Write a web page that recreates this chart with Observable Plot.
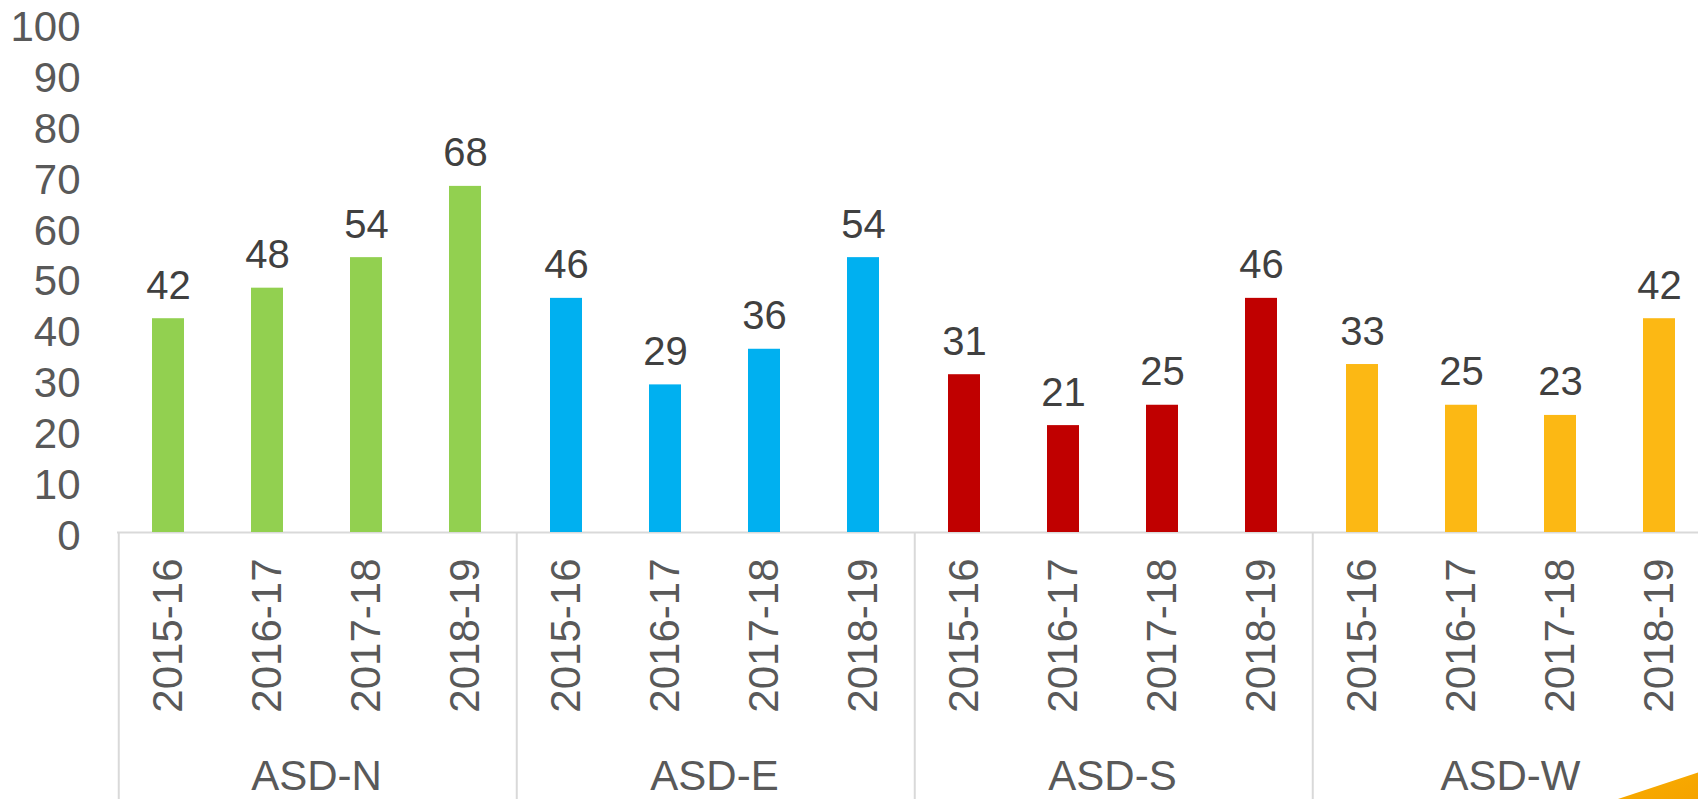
<!DOCTYPE html>
<html>
<head>
<meta charset="utf-8">
<script src="https://cdn.jsdelivr.net/npm/d3@7"></script>
<script src="https://cdn.jsdelivr.net/npm/@observablehq/plot@0.6"></script>
<style>
  html, body { margin: 0; padding: 0; background: #fff; overflow: hidden; }
  #wrap { position: relative; width: 1698px; height: 799px; overflow: hidden; }
  #swoosh { position: absolute; left: 1560px; top: 740px; width: 138px; height: 59px;
    background: linear-gradient(160deg, #ffffff 0%, #fff3d6 45%, #f7a900 70%, #f5a300 100%);
    clip-path: polygon(42% 100%, 100% 55%, 100% 100%); }
</style>
</head>
<body>
<div id="wrap"><div id="chart"></div><div id="swoosh"></div></div>
<script>
const groups = ["ASD-N", "ASD-E", "ASD-S", "ASD-W"];
const years = ["2015-16", "2016-17", "2017-18", "2018-19"];
const valuesN = [42, 48, 54, 68];
const valuesE = [46, 29, 36, 54];
const valuesS = [31, 21, 25, 46];
const valuesW = [33, 25, 23, 42];
const colors = ["#92D050", "#00B0F0", "#C00000", "#FCB814"];
const yTicks = [0, 10, 20, 30, 40, 50, 60, 70, 80, 90, 100];

const seriesValues = [valuesN, valuesE, valuesS, valuesW];
const data = groups.flatMap((g, gi) => years.map((yr, yi) => ({group: g, year: yr, value: seriesValues[gi][yi]})));

const W = 1709, H = 799, ML = 117, Y0 = 532, Y100 = 23;
const step = (W - ML) / groups.length / years.length;
// data value that sits at the bottom edge of the picture (for the category dividers)
const yBottom = -100 * (H - Y0) / (Y0 - Y100);

const chart = Plot.plot({
  width: W,
  height: H,
  marginLeft: ML,
  marginRight: 0,
  marginTop: 0,
  marginBottom: 0,
  style: {fontFamily: "'Liberation Sans', Arial, sans-serif", background: "#fff", maxWidth: "none", overflow: "hidden"},
  fx: {domain: groups, paddingInner: 0, paddingOuter: 0, axis: null},
  x: {domain: years, paddingInner: 0.678, paddingOuter: 0.339, axis: null},
  y: {domain: [0, 100], range: [Y0, Y100], axis: null},
  color: {domain: groups, range: colors},
  marks: [
    Plot.ruleY([0], {stroke: "#d9d9d9", strokeWidth: 2}),
    Plot.ruleX(groups, {fx: d => d, x: () => years[0], y1: 0, y2: yBottom, dx: -step / 2, stroke: "#d9d9d9", strokeWidth: 2}),
    Plot.barY(data, {fx: "group", x: "year", y: "value", fill: "group"}),
    Plot.text(data, {fx: "group", x: "year", y: "value", text: d => String(d.value),
      lineAnchor: "bottom", dy: -20, fontSize: 40, fill: "#404040"}),
    Plot.axisY({ticks: yTicks, tickSize: 0, tickPadding: 37, fontSize: 42, color: "#595959", dy: 4, label: null}),
    Plot.text(data, {fx: "group", x: "year", y: 0, text: "year", rotate: -90, textAnchor: "end",
      lineAnchor: "middle", dy: 26, fontSize: 42, fill: "#595959"}),
    Plot.text(groups, {fx: d => d, text: d => d, frameAnchor: "bottom", lineAnchor: "bottom",
      dy: -10, fontSize: 42, fill: "#595959"})
  ]
});
document.getElementById("chart").appendChild(chart);
</script>
</body>
</html>
